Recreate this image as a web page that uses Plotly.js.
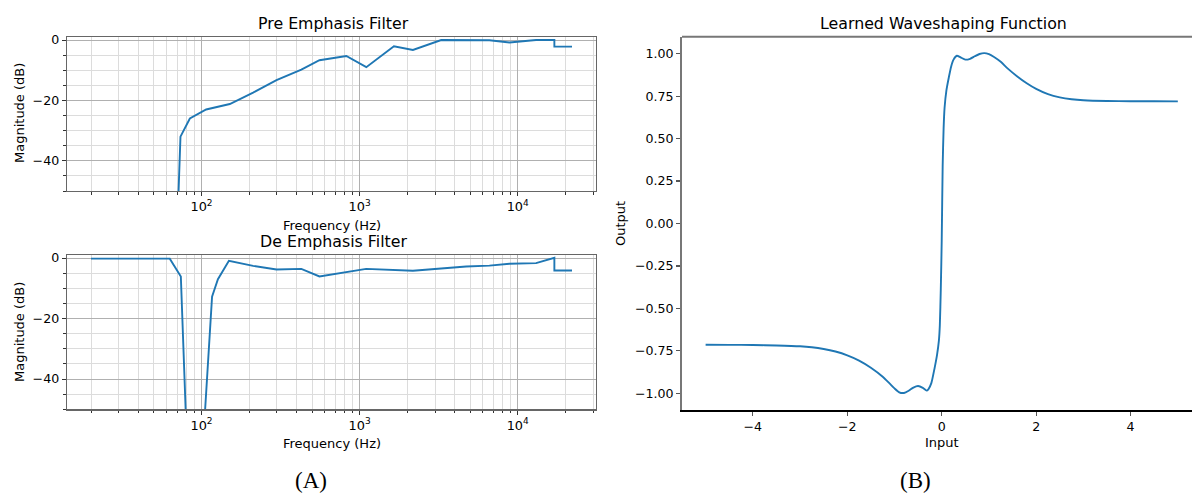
<!DOCTYPE html>
<html>
<head>
<meta charset="utf-8">
<script src="https://cdn.plot.ly/plotly-3.0.1.min.js"></script>
<style>html,body{margin:0;padding:0;background:#fff;} #chart{width:1192px;height:493px;}</style>
</head>
<body>
<div id="chart"></div>
<script>
// Pre emphasis filter (frequency in Hz, magnitude in dB)
const preFreq = [70.5, 73.6, 84.4, 107, 151, 212, 298, 428, 557, 824, 1102, 1648, 2173, 3282, 6620, 8870, 13060, 17050, 17050, 22050];
const preMag  = [-60, -32, -26, -23, -21.2, -17.4, -13.3, -9.8, -6.7, -5.3, -9, -2.1, -3.3, 0, -0.1, -0.8, 0, 0, -2.2, -2.2];

// De emphasis filter
const deFreq = [20, 63, 74, 80, 104, 116.6, 127, 149, 212, 298, 428, 557, 1100, 2173, 4720, 6620, 8870, 13060, 17050, 17050, 22050];
const deMag  = [-0.2, -0.2, -6.1, -55, -55, -12.8, -7, -0.9, -2.6, -3.8, -3.6, -6.1, -3.6, -4.2, -2.8, -2.5, -1.9, -1.7, 0.1, -4.1, -4.1];

// Learned waveshaping function
const waveIn  = [-5, -4.5, -4, -3.5, -3, -2.75, -2.5, -2.25, -2, -1.75, -1.5, -1.25, -1.1, -1.0, -0.9, -0.8, -0.7, -0.6, -0.5, -0.4, -0.32, -0.28, -0.22, -0.15, -0.1, -0.06, -0.04, -0.02, 0.0, 0.02, 0.04, 0.06, 0.1, 0.15, 0.2, 0.25, 0.32, 0.4, 0.5, 0.6, 0.7, 0.8, 0.9, 1.0, 1.1, 1.25, 1.4, 1.6, 1.8, 2.0, 2.25, 2.5, 2.75, 3.0, 3.5, 4.0, 4.5, 5.0];
const waveOut = [-0.714, -0.7145, -0.7155, -0.718, -0.723, -0.729, -0.739, -0.754, -0.776, -0.807, -0.849, -0.902, -0.943, -0.971, -0.994, -0.998, -0.985, -0.966, -0.957, -0.968, -0.984, -0.975, -0.94, -0.85, -0.775, -0.69, -0.6, -0.39, -0.1, 0.34, 0.56, 0.68, 0.785, 0.86, 0.925, 0.965, 0.988, 0.978, 0.965, 0.97, 0.985, 0.998, 1.003, 0.997, 0.982, 0.952, 0.912, 0.866, 0.826, 0.793, 0.762, 0.743, 0.732, 0.726, 0.7215, 0.7200, 0.7195, 0.719];

const W = 1192, H = 493;
const px = v => v / W;
const py = v => 1 - v / H;
const FONT = 'DejaVu Sans, sans-serif';
const BLUE = '#1f77b4';

const traces = [
  {x: preFreq, y: preMag, xaxis: 'x', yaxis: 'y', mode: 'lines', line: {color: BLUE, width: 1.9}, hoverinfo: 'skip'},
  {x: deFreq, y: deMag, xaxis: 'x2', yaxis: 'y2', mode: 'lines', line: {color: BLUE, width: 1.9}, hoverinfo: 'skip'},
  {x: waveIn, y: waveOut, xaxis: 'x3', yaxis: 'y3', mode: 'lines', line: {color: BLUE, width: 1.9, shape: 'spline', smoothing: 0.6}, hoverinfo: 'skip'}
];

function logAxis(dom, anchor) {
  return {
    type: 'log', domain: dom, anchor: anchor,
    range: [Math.log10(14.1), 4.495],
    tickmode: 'linear', tick0: 0, dtick: 1, exponentformat: 'power',
    tickfont: {family: FONT, size: 10.3, color: '#000'},
    ticks: 'outside', ticklen: 4, tickcolor: '#333', tickwidth: 1,
    showgrid: true, gridcolor: '#b0b0b0', gridwidth: 1,
    minor: {dtick: 'D1', ticks: 'outside', ticklen: 2.5, tickcolor: '#333', showgrid: true, gridcolor: '#dcdcdc', gridwidth: 1},
    showline: true, linecolor: '#666', linewidth: 1.3, mirror: true,
    zeroline: false
  };
}
function dbAxis(dom, anchor) {
  return {
    domain: dom, anchor: anchor,
    range: [-50, 1],
    tickmode: 'linear', tick0: 0, dtick: 20,
    tickfont: {family: FONT, size: 12.6, color: '#000'},
    ticks: 'outside', ticklen: 4, tickcolor: '#333', tickwidth: 1,
    showgrid: true, gridcolor: '#b0b0b0', gridwidth: 1,
    minor: {dtick: 5, ticks: 'outside', ticklen: 2.5, tickcolor: '#333', showgrid: true, gridcolor: '#dcdcdc', gridwidth: 1},
    showline: true, linecolor: '#666', linewidth: 1.3, mirror: true,
    zeroline: false
  };
}

function ann(text, x, y, size, opts) {
  return Object.assign({text: text, x: px(x), y: py(y), xref: 'paper', yref: 'paper',
    xanchor: 'center', yanchor: 'middle', showarrow: false,
    font: {family: FONT, size: size, color: '#000'}}, opts || {});
}

const SERIF = {family: 'Liberation Serif, Times New Roman, serif', size: 23, color: '#000'};

const layout = {
  width: W, height: H,
  margin: {l: 0, r: 0, t: 0, b: 0},
  paper_bgcolor: '#fff', plot_bgcolor: '#fff',
  showlegend: false,
  xaxis: logAxis([px(67), px(596)], 'y'),
  yaxis: dbAxis([py(191), py(37)], 'x'),
  xaxis2: logAxis([px(67), px(596)], 'y2'),
  yaxis2: dbAxis([py(409.3), py(255)], 'x2'),
  xaxis3: {
    domain: [px(682), 1], anchor: 'y3',
    range: [-5.5, 5.3], tickmode: 'linear', tick0: 0, dtick: 2,
    tickfont: {family: FONT, size: 12.6, color: '#000'},
    ticks: 'outside', ticklen: 4, tickcolor: '#555', tickwidth: 1.2,
    showgrid: false, zeroline: false,
    showline: true, linecolor: '#000', linewidth: 1.3
  },
  yaxis3: {
    domain: [py(410.3), py(36.7)], anchor: 'x3',
    range: [-1.1, 1.1], tickmode: 'linear', tick0: 0, dtick: 0.25, tickformat: '.2f',
    tickfont: {family: FONT, size: 12.6, color: '#000'},
    ticks: 'outside', ticklen: 4, tickcolor: '#555', tickwidth: 1.2,
    showgrid: false, zeroline: false,
    showline: true, linecolor: '#777', linewidth: 2
  },
  shapes: [
    {type: 'line', xref: 'x3 domain', yref: 'y3 domain', x0: 0, x1: 1, y0: 1, y1: 1, line: {color: '#777', width: 2}}
  ],
  annotations: [
    ann('Pre Emphasis Filter', 333, 23, 15.8),
    ann('Frequency (Hz)', 332, 225, 13),
    ann('De Emphasis Filter', 333, 241, 15.8),
    ann('Frequency (Hz)', 332, 443, 13),
    ann('Magnitude (dB)', 19, 113, 13, {textangle: -90}),
    ann('Magnitude (dB)', 19, 332, 13, {textangle: -90}),
    ann('Learned Waveshaping Function', 943, 23, 15.8),
    ann('Input', 942, 442, 13),
    ann('Output', 620, 224, 13, {textangle: -90}),
    ann('(A)', 311, 480, 23, {font: SERIF}),
    ann('(B)', 915.5, 480, 23, {font: SERIF})
  ]
};

Plotly.newPlot('chart', traces, layout, {staticPlot: true, displayModeBar: false});
</script>
</body>
</html>
